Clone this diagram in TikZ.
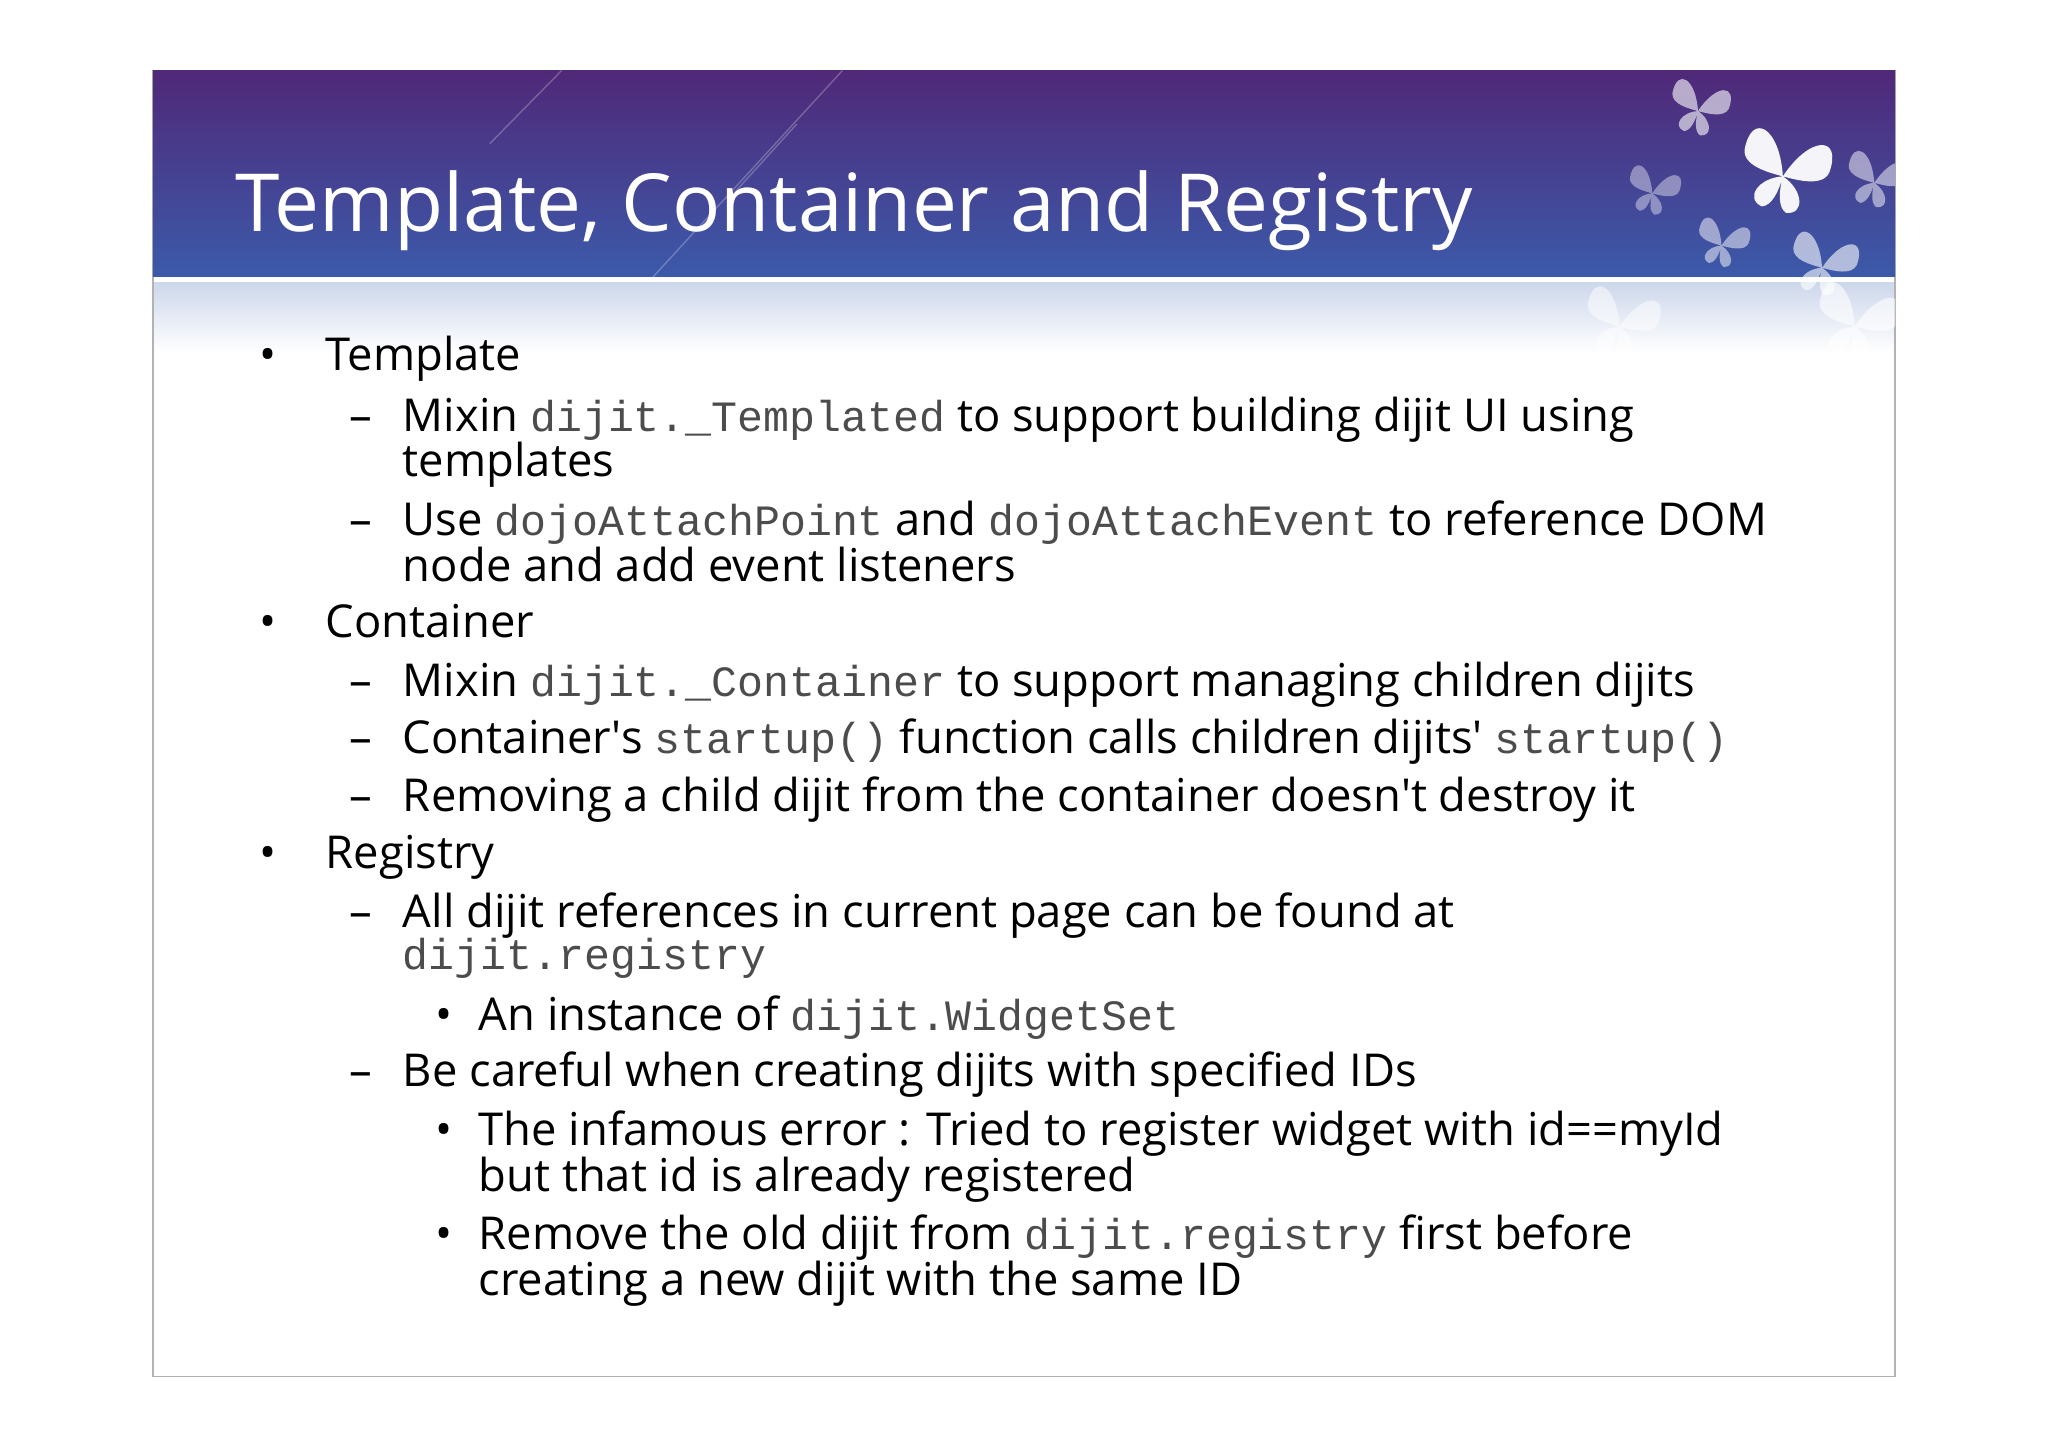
\documentclass[tikz,border=0pt]{standalone}
\usepackage{fontspec}
\setmainfont{Open Sans}
\setmonofont{Liberation Mono}
\begin{document}
\begin{tikzpicture}[x=0.013061cm,y=-0.013061cm,
 ln/.style={anchor=base west,inner sep=0pt,font=\fontsize{12.9}{15}\selectfont},
 mk/.style={anchor=base,inner sep=0pt,font=\fontsize{12.9}{15}\selectfont}]
\newcommand{\cd}[1]{{\fontsize{12.3}{14}\ttfamily\color{black!70}#1}}
\newcommand{\bfly}[4]{\begin{scope}[shift={(#1,#2)},scale=#3,rotate=-15]
 \fill[white,opacity=#4] (0,0) .. controls (-10,-30) and (-30,-35) .. (-28,-10) .. controls (-26,0) and (-10,0) .. (0,0)
  .. controls (-15,5) and (-20,20) .. (-8,22) .. controls (-2,20) and (0,10) .. (0,0)
  .. controls (10,-30) and (30,-35) .. (28,-10) .. controls (26,0) and (10,0) .. (0,0)
  .. controls (15,5) and (20,20) .. (8,22) .. controls (2,20) and (0,10) .. (0,0);
 \end{scope}}
\useasboundingbox (0,0) rectangle (1568,1109);
\fill[white] (0,0) rectangle (1568,1109);
\draw[gray!60] (117,54) rectangle (1451,1054);
\shade[top color={rgb,255:red,80;green,40;blue,120},bottom color={rgb,255:red,60;green,90;blue,170}] (117,54) rectangle (1451,212);
\shade[top color={rgb,255:red,205;green,215;blue,235},bottom color=white] (118,216) rectangle (1450,270);
\draw[white,opacity=0.25] (375,110) -- (430,54) (500,212) -- (645,54) (560,150) -- (610,95);
\begin{scope}
\clip (117,54) rectangle (1451,290);
\bfly{1365}{135}{1.2}{0.95}
\bfly{1300}{85}{0.8}{0.6}
\bfly{1265}{148}{0.7}{0.4}
\bfly{1318}{188}{0.7}{0.5}
\bfly{1435}{140}{0.8}{0.5}
\bfly{1395}{205}{0.9}{0.6}
\bfly{1240}{250}{1.0}{0.5}
\bfly{1420}{250}{1.1}{0.6}
\end{scope}
\node[anchor=base west,inner sep=0pt,text=white,font=\fontsize{22.8}{26}\selectfont] (title) at (180,177) {Template, Container and Registry};
\foreach \y in {284,488,665} {\node[mk] at (205,\y) {•};}
\foreach \y in {330,410,533,577,621,710,832} {\node[mk] at (276,\y) {–};}
\foreach \y in {789,877,957} {\node[mk] at (340,\y) {•};}
\node[ln] (a1) at (249,284) {Template};
\node[ln] (a2) at (308,330) {Mixin \cd{dijit.\_Templated} to support building dijit UI using};
\node[ln] (a3) at (308,365) {templates};
\node[ln] (a4) at (308,410) {Use \cd{dojoAttachPoint} and \cd{dojoAttachEvent} to reference DOM};
\node[ln] (a5) at (308,445) {node and add event listeners};
\node[ln] (b1) at (249,488) {Container};
\node[ln] (b2) at (308,533) {Mixin \cd{dijit.\_Container} to support managing children dijits};
\node[ln] (b3) at (308,577) {Container\textquotesingle s \cd{startup()} function calls children dijits\textquotesingle\ \cd{startup()}};
\node[ln] (b4) at (308,621) {Removing a child dijit from the container doesn\textquotesingle t destroy it};
\node[ln] (c1) at (249,665) {Registry};
\node[ln] (c2) at (308,710) {All dijit references in current page can be found at};
\node[ln] (c3) at (308,742) {\cd{dijit.registry}};
\node[ln] (c4) at (366,789) {An instance of \cd{dijit.WidgetSet}};
\node[ln] (c5) at (308,832) {Be careful when creating dijits with specified IDs};
\node[ln] (c6) at (366,877) {The infamous error : Tried to register widget with id==myId};
\node[ln] (c7) at (366,912) {but that id is already registered};
\node[ln] (c8) at (366,957) {Remove the old dijit from \cd{dijit.registry} first before};
\node[ln] (c9) at (366,992) {creating a new dijit with the same ID};
\end{tikzpicture}
\end{document}
